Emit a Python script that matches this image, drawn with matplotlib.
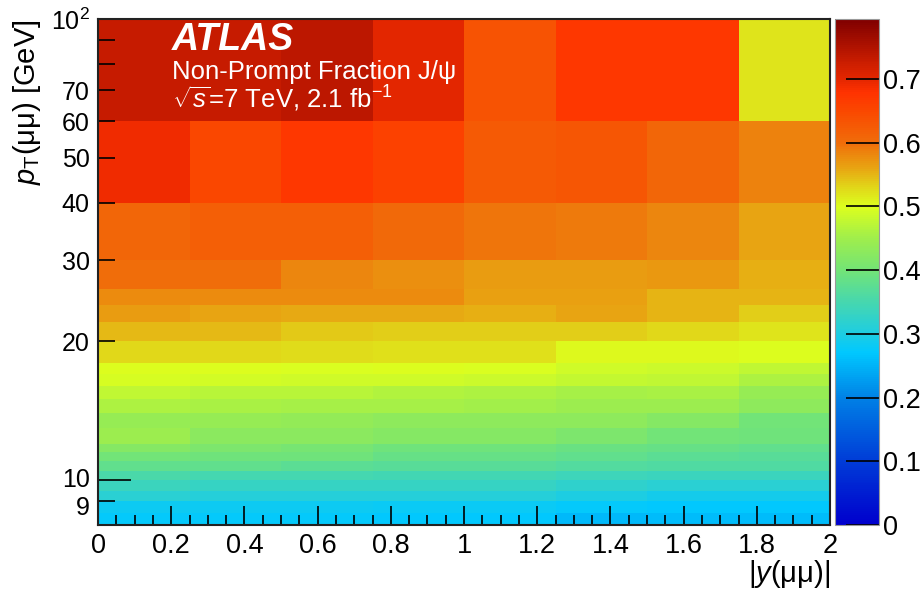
import numpy as np
import matplotlib
matplotlib.use("Agg")
import matplotlib.pyplot as plt
from matplotlib.colors import LinearSegmentedColormap, Normalize
from matplotlib.transforms import ScaledTranslation

plt.rcParams['font.family'] = ['Liberation Sans', 'DejaVu Sans']
plt.rcParams['mathtext.fontset'] = 'custom'
plt.rcParams['mathtext.rm'] = 'Liberation Sans'
plt.rcParams['mathtext.it'] = 'Liberation Sans:italic'
plt.rcParams['mathtext.bf'] = 'Liberation Sans:bold'

# Bin edges: dimuon rapidity |y| and transverse momentum pT [GeV]
y_edges = [0.0, 0.25, 0.5, 0.75, 1.0, 1.25, 1.5, 1.75, 2.0]
pt_edges = [8, 8.5, 9, 9.5, 10, 10.5, 11, 11.5, 12, 13, 14, 15, 16, 17, 18,
            20, 22, 24, 26, 30, 40, 60, 100]

# Non-prompt J/psi fraction, one row per pT bin (low to high), one column per |y| bin
fraction = [
    [0.275, 0.275, 0.275, 0.270, 0.270, 0.255, 0.260, 0.260],  # 8-8.5
    [0.285, 0.285, 0.285, 0.280, 0.280, 0.275, 0.270, 0.270],  # 8.5-9
    [0.315, 0.310, 0.310, 0.310, 0.310, 0.300, 0.290, 0.290],  # 9-9.5
    [0.335, 0.330, 0.330, 0.330, 0.330, 0.320, 0.315, 0.315],  # 9.5-10
    [0.355, 0.350, 0.350, 0.345, 0.345, 0.340, 0.335, 0.335],  # 10-10.5
    [0.380, 0.380, 0.375, 0.370, 0.370, 0.365, 0.360, 0.360],  # 10.5-11
    [0.400, 0.395, 0.395, 0.385, 0.385, 0.380, 0.375, 0.370],  # 11-11.5
    [0.420, 0.410, 0.405, 0.395, 0.395, 0.390, 0.385, 0.380],  # 11.5-12
    [0.445, 0.425, 0.425, 0.420, 0.420, 0.410, 0.400, 0.395],  # 12-13
    [0.440, 0.440, 0.435, 0.430, 0.430, 0.430, 0.420, 0.400],  # 13-14
    [0.460, 0.458, 0.455, 0.455, 0.450, 0.445, 0.445, 0.430],  # 14-15
    [0.475, 0.470, 0.470, 0.463, 0.462, 0.455, 0.458, 0.440],  # 15-16
    [0.495, 0.493, 0.488, 0.490, 0.485, 0.480, 0.477, 0.460],  # 16-17
    [0.500, 0.500, 0.498, 0.500, 0.497, 0.488, 0.485, 0.475],  # 17-18
    [0.528, 0.528, 0.526, 0.522, 0.522, 0.505, 0.503, 0.500],  # 18-20
    [0.548, 0.548, 0.538, 0.536, 0.535, 0.534, 0.530, 0.520],  # 20-22
    [0.565, 0.560, 0.558, 0.558, 0.553, 0.560, 0.550, 0.535],  # 22-24
    [0.578, 0.578, 0.577, 0.578, 0.562, 0.562, 0.550, 0.550],  # 24-26
    [0.600, 0.600, 0.580, 0.575, 0.565, 0.565, 0.570, 0.555],  # 26-30
    [0.610, 0.620, 0.620, 0.605, 0.595, 0.590, 0.580, 0.560],  # 30-40
    [0.690, 0.650, 0.670, 0.660, 0.625, 0.630, 0.610, 0.585],  # 40-60
    [0.730, 0.730, 0.740, 0.700, 0.635, 0.670, 0.670, 0.520],  # 60-100
]

z_min, z_max = 0.0, 0.794
x_ticks = [0, 0.2, 0.4, 0.6, 0.8, 1.0, 1.2, 1.4, 1.6, 1.8, 2.0]
x_tick_labels = ["0", "0.2", "0.4", "0.6", "0.8", "1", "1.2", "1.4", "1.6", "1.8", "2"]
pt_major = [10, 100]
pt_major_labels = ["10", r"10$^{2}$"]
pt_minor = [9, 20, 30, 40, 50, 60, 70, 80, 90]
pt_minor_labels = ["9", "20", "30", "40", "50", "60", "70", "", ""]
z_ticks = [0, 0.1, 0.2, 0.3, 0.4, 0.5, 0.6, 0.7]
z_tick_labels = ["0", "0.1", "0.2", "0.3", "0.4", "0.5", "0.6", "0.7"]

# Palette running blue -> cyan -> green -> yellow -> orange -> red -> dark red
stops = [
    (0.000, (0, 0, 205)),
    (0.100, (0, 60, 215)),
    (0.200, (0, 130, 230)),
    (0.270, (0, 200, 255)),
    (0.300, (30, 205, 225)),
    (0.350, (70, 215, 175)),
    (0.400, (115, 228, 118)),
    (0.450, (160, 238, 75)),
    (0.500, (220, 255, 30)),
    (0.530, (225, 215, 25)),
    (0.560, (232, 165, 18)),
    (0.600, (240, 110, 10)),
    (0.650, (250, 72, 0)),
    (0.680, (255, 50, 0)),
    (0.700, (228, 38, 0)),
    (0.730, (200, 28, 0)),
    (0.794, (128, 0, 0)),
]
palette = LinearSegmentedColormap.from_list(
    "np_palette",
    [(v / z_max, tuple(c / 255 for c in col)) for v, col in stops],
    N=256,
)

W, H = 922, 590
fig = plt.figure(figsize=(W / 100, H / 100), dpi=100)

def frac_box(x0, y0, x1, y1):
    return [x0 / W, 1 - y1 / H, (x1 - x0) / W, (y1 - y0) / H]

ax = fig.add_axes(frac_box(98, 19, 830, 525))
cax = fig.add_axes(frac_box(835, 19, 879, 525))

norm = Normalize(vmin=z_min, vmax=z_max)
mesh = ax.pcolormesh(y_edges, pt_edges, np.array(fraction), cmap=palette,
                     norm=norm, shading='flat', edgecolors='none')

ax.set_yscale('log')
ax.set_xlim(y_edges[0], y_edges[-1])
ax.set_ylim(pt_edges[0], pt_edges[-1])

x_fs = 19.5
y_fs = 18
title_fs = 21
ax.set_xticks(x_ticks)
ax.set_xticklabels(x_tick_labels, fontsize=x_fs)
ax.set_xticks(np.arange(0, 2.0001, 0.05), minor=True)
ax.tick_params(axis='x', which='major', direction='in', length=14, width=1.2,
               top=False, pad=6)
ax.tick_params(axis='x', which='minor', direction='in', length=7, width=1.2, top=False)

ax.set_yticks(pt_major)
ax.set_yticklabels(pt_major_labels, fontsize=y_fs)
ax.set_yticks(pt_minor, minor=True)
ax.set_yticklabels(pt_minor_labels, minor=True, fontsize=y_fs)
ax.tick_params(axis='y', which='major', direction='in', length=24, width=1.2,
               right=False, pad=6)
ax.tick_params(axis='y', which='minor', direction='in', length=12, width=1.2,
               right=False, pad=6)

# The 9 and 10 labels sit very close on the log axis; ease them apart a little
for lbl in ax.get_yticklabels(minor=True):
    if lbl.get_text() == "9":
        lbl.set_transform(lbl.get_transform() +
                          ScaledTranslation(0, -3 / 72, fig.dpi_scale_trans))
for lbl in ax.get_yticklabels():
    if lbl.get_text() == "10":
        lbl.set_transform(lbl.get_transform() +
                          ScaledTranslation(0, 2 / 72, fig.dpi_scale_trans))

for sp in ax.spines.values():
    sp.set_linewidth(1.5)
    sp.set_color('#222222')

cbar = fig.colorbar(mesh, cax=cax)
cbar.set_ticks(z_ticks)
cbar.set_ticklabels(z_tick_labels)
cbar.ax.tick_params(direction='in', length=24, width=1.2, labelsize=x_fs, pad=3)
cbar.outline.set_linewidth(0.8)
cbar.outline.set_edgecolor('#999999')

fig.text(27 / W, 1 - 19 / H, r"$p_{\mathrm{T}}$(μμ) [GeV]", rotation=90,
         ha='center', va='top', fontsize=title_fs)
fig.text(830 / W, 1 - 590 / H, r"|$y$(μμ)|", ha='right', va='bottom', fontsize=title_fs)

fig.text(172 / W, 1 - 50 / H, "ATLAS", color='white', fontsize=27,
         fontweight='bold', fontstyle='italic', ha='left', va='baseline')
fig.text(172 / W, 1 - 79 / H, "Non-Prompt Fraction J/ψ", color='white',
         fontsize=18.5, ha='left', va='baseline')
fig.text(172 / W, 1 - 108 / H, r"$\sqrt{s}$=7 TeV, 2.1 fb$^{-1}$", color='white',
         fontsize=18.5, ha='left', va='baseline')

fig.savefig("out.png", dpi=100)
